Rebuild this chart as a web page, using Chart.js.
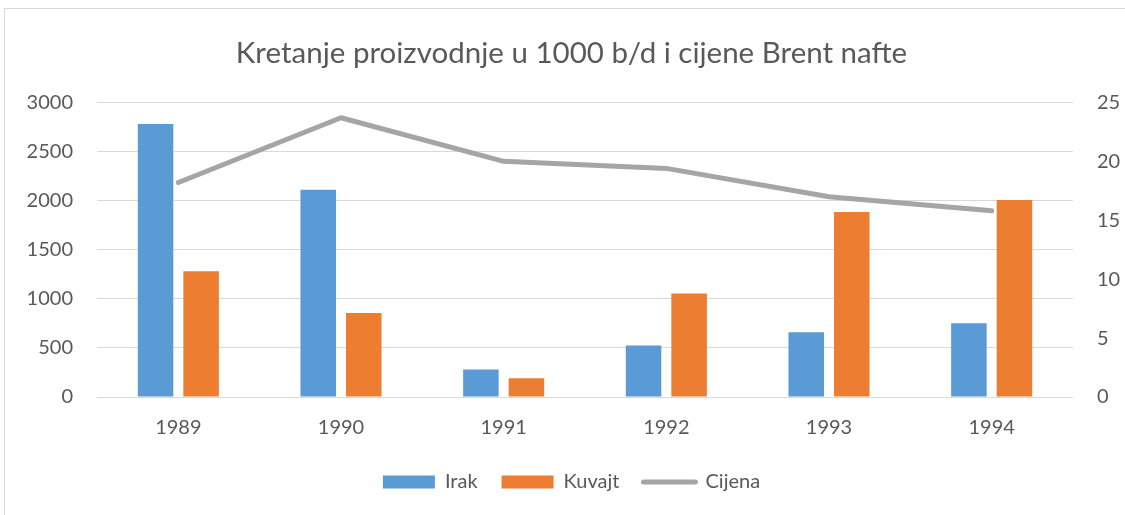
<!DOCTYPE html>
<html><head><meta charset="utf-8">
<script src="https://cdn.jsdelivr.net/npm/chart.js@4.4.1/dist/chart.umd.min.js"></script>
<style>
html,body{margin:0;padding:0;background:#fff;}
#wrap{position:relative;width:1125px;height:515px;overflow:hidden;}
#frame{position:absolute;left:4px;top:8px;width:1140px;height:540px;border:1px solid #d9d9d9;box-sizing:border-box;}
canvas{position:absolute;left:0;top:0;}
</style></head><body>
<div id="wrap"><div id="frame"></div><canvas id="c" width="1125" height="515"></canvas></div>
<script>
const categories = ['1989', '1990', '1991', '1992', '1993', '1994'];
const irak = [2780, 2110, 280, 525, 660, 750];
const kuvajt = [1280, 855, 190, 1055, 1885, 2005];
const cijena = [18.2, 23.7, 20.0, 19.4, 17.0, 15.8];
const leftTicks = [0, 500, 1000, 1500, 2000, 2500, 3000];
const rightTicks = [0, 5, 10, 15, 20, 25];

const FONT = 'Lato';
const TXT = '#595959';

new Chart(document.getElementById('c'), {
  type: 'bar',
  data: {
    labels: categories,
    datasets: [
      { label: 'Irak', data: irak, backgroundColor: '#5b9bd5', yAxisID: 'y',
        categoryPercentage: 0.56, barPercentage: 0.78 },
      { label: 'Kuvajt', data: kuvajt, backgroundColor: '#ed7d31', yAxisID: 'y',
        categoryPercentage: 0.56, barPercentage: 0.78 },
      { type: 'line', label: 'Cijena', data: cijena, yAxisID: 'y1',
        borderColor: '#a5a5a5', backgroundColor: '#a5a5a5', borderWidth: 5,
        borderCapStyle: 'round', borderJoinStyle: 'round', tension: 0,
        pointRadius: 0, pointHoverRadius: 0, fill: false }
    ]
  },
  options: {
    responsive: false,
    animation: false,
    events: [],
    layout: { padding: { left: 18, right: 0, top: 0, bottom: 13 } },
    plugins: {
      title: {
        display: true,
        text: 'Kretanje proizvodnje u 1000 b/d i cijene Brent nafte',
        color: TXT,
        font: { family: FONT, size: 29.5, weight: 'normal' },
        padding: { top: 36, bottom: 31 }
      },
      legend: {
        position: 'bottom',
        labels: {
          color: TXT,
          font: { family: FONT, size: 20 },
          usePointStyle: true,
          pointStyleWidth: 52,
          boxWidth: 52,
          boxHeight: 13,
          padding: 24,
          generateLabels(chart) {
            const items = Chart.defaults.plugins.legend.labels.generateLabels(chart);
            items.forEach((it, i) => {
              if (i === 2) {
                it.pointStyle = 'line';
                it.lineWidth = 5;
                it.strokeStyle = '#a5a5a5';
                it.lineCap = 'round';
              } else {
                it.pointStyle = 'rect';
                it.lineWidth = 0;
              }
            });
            return items;
          }
        }
      },
      tooltip: { enabled: false }
    },
    scales: {
      x: {
        grid: { display: false },
        border: { display: false },
        ticks: { color: TXT, font: { family: FONT, size: 20 }, padding: 11 },
        afterFit(s) { s.height = 51; }
      },
      y: {
        position: 'left',
        min: 0, max: 3000,
        afterBuildTicks(s) { s.ticks = leftTicks.map(v => ({ value: v })); },
        grid: { color: '#d9d9d9', lineWidth: 1, drawTicks: false },
        border: { display: false },
        ticks: { color: TXT, font: { family: FONT, size: 20 }, padding: 24,
                 callback: v => String(v) },
        afterFit(s) { s.width = 79; }
      },
      y1: {
        position: 'right',
        min: 0, max: 25,
        afterBuildTicks(s) { s.ticks = rightTicks.map(v => ({ value: v })); },
        grid: { display: false, drawTicks: false },
        border: { display: false },
        ticks: { color: TXT, font: { family: FONT, size: 20 }, padding: 24,
                 callback: v => String(v) },
        afterFit(s) { s.width = 52; }
      }
    }
  }
});
</script>
</body></html>
